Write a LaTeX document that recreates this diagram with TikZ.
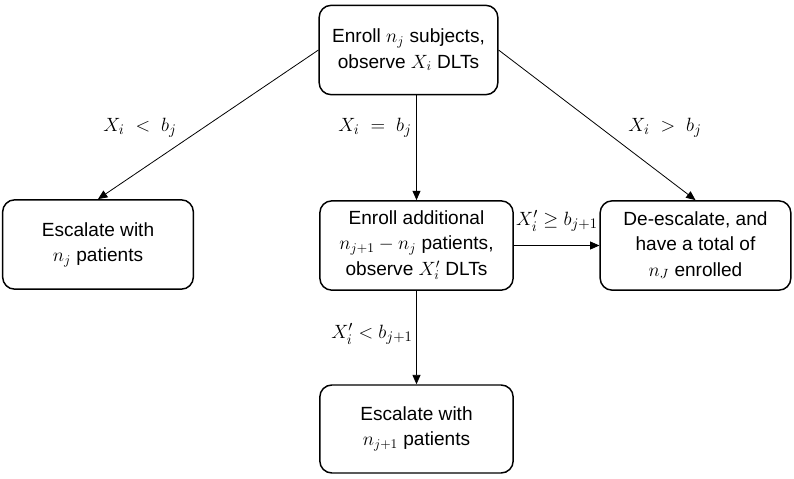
\documentclass[tikz,border=0pt]{standalone}
\usepackage{fontspec}
\setmainfont{Liberation Sans}
\usepackage{amsmath}
\usepackage{tikz}
\usetikzlibrary{shapes, arrows.meta, positioning}

\begin{document}
\begin{tikzpicture}
  [
    x=0.75pt, y=-0.75pt,
    Box/.style={rectangle, rounded corners=9pt, draw=black, line width=1.1pt, align=center,
      minimum width=143pt, minimum height=67pt, inner sep=2pt,
      font=\fontsize{14.3}{18.8}\selectfont},
    Arrow/.style={-{Triangle[length=7pt, width=6pt]}, draw, line width=0.6pt},
    Cond/.style={font=\fontsize{15}{17}\selectfont, inner sep=1pt}
  ]
  \useasboundingbox (0,0) rectangle (794,479);

  % Nodes
  \node[Box, minimum width=134pt] (enroll) at (408.5, 50) {Enroll $n_j$ subjects,\\observe $X_i$ DLTs};

  \node[Box] (esc) at (98, 244.5) {Escalate with\\$n_j$ patients};

  \node[Box, minimum width=145pt] (more) at (416.5, 245.5) {Enroll additional\\$n_{j+1}-n_j$ patients,\\observe $X_i'$ DLTs};

  \node[Box] (deesc) at (695.5, 245.5) {De-escalate, and\\have a total of\\$n_J$ enrolled};

  \node[Box, minimum width=145pt, minimum height=66pt] (escnext) at (416.5, 429) {Escalate with\\$n_{j+1}$ patients};

  % Conditions
  \node[Cond] (less) at (140, 128) {$X_i\ <\ b_j$};
  \node[Cond] (equal) at (375, 128) {$X_i\ =\ b_j$};
  \node[Cond] (greater) at (665, 128) {$X_i\ >\ b_j$};
  \node[Cond] (geqnext) at (557, 221) {$X_i' \geq b_{j+1}$};
  \node[Cond] (lessnext) at (372, 334) {$X_i' < b_{j+1}$};

  % Lines
  \path [Arrow] (enroll.west) -- (esc.north);
  \path [Arrow] (enroll.south -| more.north) -- (more.north);
  \path [Arrow] (enroll.east) -- (deesc.north);
  \path [Arrow] (more.east) -- (deesc.west);
  \path [Arrow] (more.south) -- (escnext.north);

\end{tikzpicture}
\end{document}
